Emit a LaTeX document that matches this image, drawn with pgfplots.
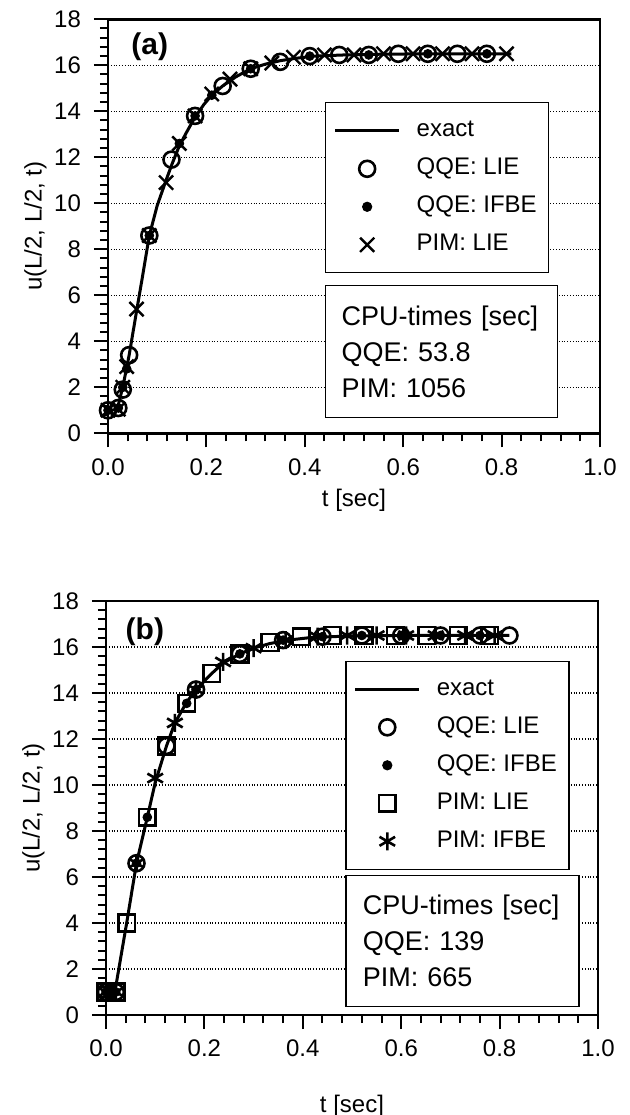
\documentclass[border=0pt]{standalone}
\usepackage{fontspec}
\setmainfont{Liberation Sans}
\usepackage{pgfplots}
\usepackage{pgfplotstable}
\pgfplotsset{compat=1.18}

% ---------------- data (a) ----------------
\pgfplotstableread{
t u
0 1.0
0.015 1.02
0.02 1.15
0.03 2.0
0.043 3.4
0.058 5.3
0.07 6.8
0.084 8.6
0.1 9.9
0.118 11.0
0.13 11.7
0.145 12.5
0.16 13.1
0.177 13.75
0.195 14.3
0.211 14.7
0.233 15.1
0.26 15.5
0.29 15.85
0.32 16.05
0.35 16.2
0.38 16.3
0.42 16.4
0.48 16.45
0.55 16.48
0.65 16.5
0.82 16.5
}\exactA
\pgfplotstableread{
t u
0 1.0
0.021 1.1
0.03 1.9
0.043 3.4
0.084 8.6
0.129 11.9
0.177 13.8
0.233 15.1
0.29 15.85
0.35 16.15
0.41 16.4
0.47 16.45
0.53 16.45
0.59 16.5
0.65 16.5
0.71 16.5
0.77 16.5
}\qqeLieA
\pgfplotstableread{
t u
0 1.0
0.021 1.1
0.03 2.0
0.038 2.8
0.084 8.6
0.145 12.6
0.177 13.8
0.211 14.7
0.29 15.85
0.41 16.4
0.53 16.45
0.65 16.5
0.77 16.5
}\qqeIfbeA
\pgfplotstableread{
t u
0 1.0
0.021 1.05
0.03 2.0
0.038 2.9
0.058 5.4
0.084 8.6
0.118 10.9
0.145 12.6
0.177 13.8
0.211 14.75
0.248 15.4
0.29 15.85
0.333 16.1
0.377 16.35
0.44 16.45
0.50 16.45
0.56 16.5
0.62 16.5
0.68 16.5
0.74 16.5
0.81 16.5
}\pimLieA

% ---------------- data (b) ----------------
\pgfplotstableread{
t u
0 1.0
0.018 1.0
0.042 4.0
0.062 6.6
0.084 8.6
0.1 10.1
0.123 11.7
0.14 12.7
0.164 13.6
0.183 14.15
0.215 14.85
0.238 15.3
0.272 15.7
0.3 15.95
0.333 16.15
0.37 16.3
0.42 16.42
0.5 16.48
0.6 16.5
0.82 16.5
}\exactB
\pgfplotstableread{
t u
0 1.0
0.02 1.0
0.062 6.6
0.123 11.7
0.183 14.15
0.272 15.7
0.36 16.3
0.44 16.45
0.52 16.5
0.6 16.5
0.68 16.5
0.76 16.5
0.82 16.5
}\qqeLieB
\pgfplotstableread{
t u
0 1.0
0.02 1.0
0.062 6.6
0.084 8.6
0.164 13.55
0.183 14.15
0.272 15.7
0.36 16.3
0.44 16.45
0.52 16.5
0.6 16.5
0.68 16.5
0.76 16.5
}\qqeIfbeB
\pgfplotstableread{
t u
0 1.0
0.02 1.0
0.042 4.0
0.084 8.6
0.123 11.7
0.164 13.55
0.215 14.85
0.272 15.7
0.333 16.2
0.397 16.45
0.46 16.5
0.524 16.5
0.588 16.5
0.652 16.5
0.716 16.5
0.78 16.5
}\pimLieB
\pgfplotstableread{
t u
0 1.0
0.02 1.0
0.062 6.6
0.1 10.3
0.14 12.7
0.183 14.15
0.238 15.35
0.3 15.95
0.365 16.3
0.43 16.45
0.49 16.5
0.55 16.5
0.61 16.5
0.67 16.5
0.73 16.5
0.79 16.5
}\pimIfbeB

\pgfplotsset{
  myaxis/.style={
    scale only axis, width=246pt, height=207pt,
    xmin=0, xmax=1, ymin=0, ymax=18,
    xtick={0,0.2,0.4,0.6,0.8,1.0}, ytick={0,2,...,18},
    minor x tick num=4, minor y tick num=4,
    tick align=outside, xtick pos=bottom, ytick pos=left,
    major tick length=7pt, minor tick length=4pt,
    every tick/.style={black, line width=1pt},
    axis line style={line width=1.4pt},
    ymajorgrids, grid style={black, densely dotted, line width=0.6pt},
    xticklabel={\pgfmathprintnumber[fixed,fixed zerofill,precision=1]{\tick}},
    /pgf/number format/assume math mode=true,
    tick label style={font=\fontsize{12}{14}\selectfont},
    label style={font=\fontsize{12}{14}\selectfont},
    yticklabel shift=3pt, ylabel shift=-3pt,
    xticklabel shift=2pt,
    xlabel={t [sec]}, ylabel={u(L/2, L/2, t)},
    clip=false,
    legend cell align=left,
    legend image code/.code={\draw[mark repeat=2,mark phase=2,##1] plot coordinates {(0pt,0pt) (16pt,0pt) (32pt,0pt)};},
    legend style={font=\fontsize{12}{14}\selectfont, draw=black, line width=0.7pt, fill=white,
      anchor=north west, inner xsep=4pt, inner ysep=6pt, row sep=3pt, column sep=6pt,
      nodes={inner sep=2pt, text height=9pt, text depth=3pt}},
  },
  exact/.style={black, line width=1.5pt, no marks},
  mcirc/.style={black, only marks, mark=o, mark size=4pt, mark options={line width=1.3pt}},
  mdot/.style={black, only marks, mark=*, mark size=2.2pt},
  mcross/.style={black, only marks, mark=x, mark size=5pt, mark options={line width=1.2pt}},
  msq/.style={black, only marks, mark=square, mark size=4.2pt, mark options={line width=1.3pt}},
  mstar/.style={black, only marks, mark=asterisk, mark size=4.5pt, mark options={line width=1.3pt}},
}

\begin{document}
\begin{tikzpicture}[x=1pt,y=1pt]
\path[use as bounding box] (0,0) rectangle (314.5,557.5);

% ---------- (a) ----------
\begin{axis}[myaxis, at={(54pt,340.85pt)}, anchor=south west,
  legend style={at={(0.441,0.800)}}]
\addplot[exact] table[x=t,y=u] {\exactA};
\addlegendentry{exact}
\addplot[mcirc] table[x=t,y=u] {\qqeLieA};
\addlegendentry{QQE: LIE}
\addplot[mdot] table[x=t,y=u] {\qqeIfbeA};
\addlegendentry{QQE: IFBE}
\addplot[mcross] table[x=t,y=u] {\pimLieA};
\addlegendentry{PIM: LIE}
\node[font=\fontsize{15}{17}\selectfont\bfseries] at (axis cs:0.085,16.8) {(a)};
\node[draw, line width=0.7pt, fill=white, anchor=north west, align=left,
  font=\fontsize{13.5}{16}\selectfont, inner xsep=8pt, text width=100pt, minimum height=66pt]
  at (rel axis cs:0.441,0.358) {CPU-times [sec]\\[2pt]QQE: 53.8\\[2pt]PIM: 1056};
\end{axis}

% ---------- (b) ----------
\begin{axis}[myaxis, at={(53pt,50pt)}, anchor=south west, xlabel shift=12pt,
  legend style={at={(0.486,0.856)}}]
\addplot[exact] table[x=t,y=u] {\exactB};
\addlegendentry{exact}
\addplot[mcirc] table[x=t,y=u] {\qqeLieB};
\addlegendentry{QQE: LIE}
\addplot[mdot] table[x=t,y=u] {\qqeIfbeB};
\addlegendentry{QQE: IFBE}
\addplot[msq] table[x=t,y=u] {\pimLieB};
\addlegendentry{PIM: LIE}
\addplot[mstar] table[x=t,y=u] {\pimIfbeB};
\addlegendentry{PIM: IFBE}
\node[font=\fontsize{15}{17}\selectfont\bfseries] at (axis cs:0.079,16.65) {(b)};
\node[draw, line width=0.7pt, fill=white, anchor=north west, align=left,
  font=\fontsize{13.5}{16}\selectfont, inner xsep=8.5pt, text width=99.5pt, minimum height=65.5pt]
  at (rel axis cs:0.486,0.338) {CPU-times [sec]\\[2pt]QQE: 139\\[2pt]PIM: 665};
\end{axis}
\end{tikzpicture}
\end{document}
